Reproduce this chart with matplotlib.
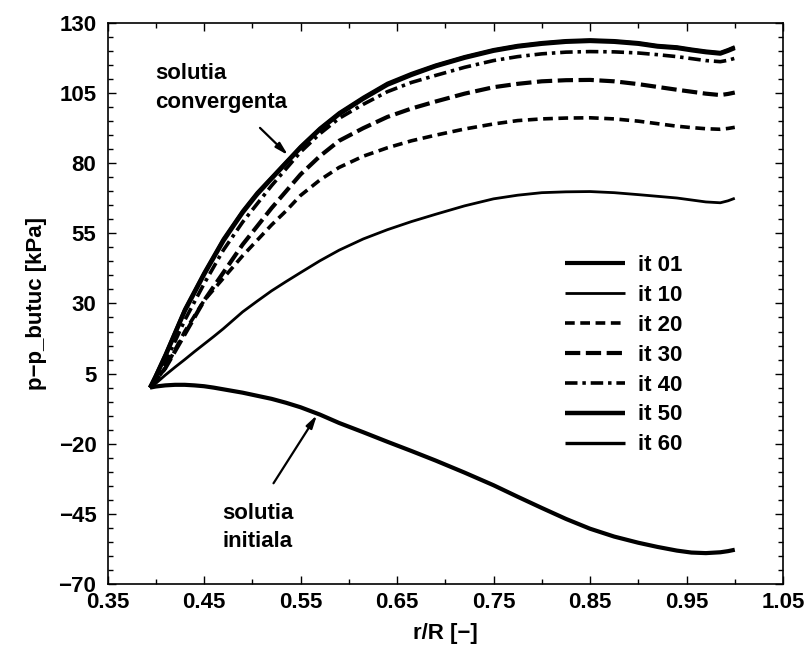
import matplotlib
matplotlib.use("Agg")
import matplotlib.pyplot as plt
from matplotlib.ticker import MultipleLocator

plt.rcParams['font.family'] = ['Liberation Sans', 'DejaVu Sans']
plt.rcParams['font.weight'] = 'bold'
plt.rcParams['lines.scale_dashes'] = False

# radial position r/R
r = [0.394, 0.40, 0.41, 0.42, 0.43, 0.44, 0.45, 0.46, 0.47, 0.48, 0.49,
     0.505, 0.52, 0.535, 0.55, 0.57, 0.59, 0.615, 0.64, 0.665, 0.69,
     0.72, 0.75, 0.775, 0.80, 0.825, 0.85, 0.875, 0.90, 0.92, 0.94,
     0.955, 0.97, 0.985, 0.993, 1.0]

# p - p_butuc [kPa] at successive iterations
it01 = [0, 0.4, 0.8, 1.0, 1.0, 0.8, 0.5, 0, -0.6, -1.2, -1.8,
        -2.9, -4.0, -5.4, -7.0, -9.6, -12.6, -15.9, -19.3, -22.6, -26.0,
        -30.3, -34.8, -38.9, -42.9, -46.8, -50.3, -53.1, -55.3, -56.8, -58.1,
        -58.8, -59.0, -58.7, -58.3, -57.8]
it10 = [0, 1.5, 4.5, 7.3, 10, 12.8, 15.5, 18.2, 21, 24, 27,
        30.8, 34.5, 37.8, 41, 45.2, 49, 53, 56.3, 59.2, 61.8,
        64.8, 67.3, 68.6, 69.5, 69.8, 69.9, 69.5, 68.8, 68.2, 67.6,
        66.9, 66.2, 65.9, 66.6, 67.5]
it20 = [0, 2.5, 7, 13.5, 20, 25.5, 31, 35, 39, 43, 47,
        52.5, 58, 63, 68.5, 74, 78.5, 82.5, 85.5, 88, 90,
        92.2, 94, 95.2, 95.8, 96.1, 96.2, 95.8, 95.0, 94.1, 93.2,
        92.7, 92.3, 92.1, 92.4, 92.8]
it30 = [0, 2.5, 7, 13, 19, 25, 31, 36, 41, 46, 51,
        57.5, 64, 70, 76, 82.5, 88, 92.5, 96.5, 99.5, 102,
        104.8, 107.1, 108.3, 109.2, 109.6, 109.7, 109.2, 108.2, 107.2, 106.2,
        105.5, 104.8, 104.3, 104.7, 105.2]
it40 = [0, 3.5, 9, 16.5, 24, 30.5, 37, 43, 49, 54, 59,
        65.5, 72, 78, 84, 90.5, 96, 101, 105.5, 108.8, 111.3,
        114.2, 116.6, 118, 119, 119.6, 119.8, 119.7, 119.3, 118.7, 118,
        117.3, 116.6, 116.2, 116.7, 117.4]
it50 = [0, 4, 11.3, 19.3, 27.3, 33.8, 40.3, 46.3, 52.3, 57.4, 62.4,
        68.9, 74.5, 80, 85.5, 92, 97.5, 103, 108, 111.5, 114.6,
        117.6, 120.1, 121.6, 122.6, 123.3, 123.6, 123.3, 122.6, 121.6, 121.1,
        120.3, 119.6, 119.1, 120.1, 121.1]
it60 = [0, 4.5, 12, 20, 28, 34.5, 41, 47, 53, 58, 63,
        69.5, 75, 80.5, 86, 92.5, 98, 103.5, 108.5, 112, 115,
        118, 120.5, 122, 123, 123.7, 124, 123.7, 123, 122, 121.5,
        120.7, 120, 119.5, 120.5, 121.5]

labels = ['it 01', 'it 10', 'it 20', 'it 30', 'it 40', 'it 50', 'it 60']
series = [it01, it10, it20, it30, it40, it50, it60]
styles = [
    dict(ls='-', lw=3.0),
    dict(ls='-', lw=2.0),
    dict(ls=(0, (7, 4)), lw=2.6),
    dict(ls=(0, (11, 4)), lw=3.0),
    dict(ls=(0, (9, 3.5, 2.5, 3.5)), lw=2.6),
    dict(ls='-', lw=3.2),
    dict(ls='-', lw=2.4),
]

fs = 16
fig = plt.figure(figsize=(8.09, 6.49), dpi=100)
ax = fig.add_axes([0.1329, 0.1002, 0.835, 0.8644])

for y, lab, st in zip(series, labels, styles):
    ax.plot(r, y, color='black', label=lab, solid_capstyle='butt',
            dash_capstyle='butt', solid_joinstyle='round', **st)

ax.set_xlim(0.35, 1.05)
ax.set_ylim(-70, 130)
ax.xaxis.set_minor_locator(MultipleLocator(0.05))
ax.yaxis.set_minor_locator(MultipleLocator(5))
ax.set_xticks([0.35, 0.45, 0.55, 0.65, 0.75, 0.85, 0.95, 1.05])
ax.set_xticklabels(['0.35', '0.45', '0.55', '0.65', '0.75', '0.85', '0.95', '1.05'])
ax.set_yticks([-70, -45, -20, 5, 30, 55, 80, 105, 130])
ax.set_yticklabels(['\u221270', '\u221245', '\u221220', '5', '30', '55', '80', '105', '130'])
ax.tick_params(which='both', direction='in', top=True, right=True, width=1.0)
ax.tick_params(which='major', length=6, labelsize=fs)
ax.tick_params(which='minor', length=3.5)
ax.tick_params(axis='x', pad=6)
ax.tick_params(axis='y', pad=8)
for s in ax.spines.values():
    s.set_linewidth(1.2)

ax.set_xlabel('r/R [\u2212]', fontsize=fs, fontweight='bold', labelpad=7)
ax.set_ylabel('p\u2212p_butuc [kPa]', fontsize=fs, fontweight='bold', labelpad=8)

ax.legend(loc='upper left', bbox_to_anchor=(565 / 809, 1 - 255 / 649),
          bbox_transform=fig.transFigure, frameon=False, fontsize=fs,
          borderpad=0, borderaxespad=0, handlelength=2.7, handletextpad=0.58,
          labelspacing=0.40)

arrow = dict(arrowstyle='-|>,head_length=0.75,head_width=0.2', color='black',
             lw=1.6, shrinkA=0, shrinkB=0)
ax.text(0.399, 106.8, 'solutia\nconvergenta', fontsize=fs, fontweight='bold',
        ha='left', va='center', linespacing=1.45)
ax.annotate('', xy=(0.537, 82.9), xytext=(0.508, 92.6), arrowprops=arrow)
ax.text(0.506, -49.9, 'solutia\ninitiala', fontsize=fs, fontweight='bold',
        ha='center', va='center', linespacing=1.45)
ax.annotate('', xy=(0.567, -9.8), xytext=(0.522, -34.1), arrowprops=arrow)

fig.savefig('out.png', dpi=100)
